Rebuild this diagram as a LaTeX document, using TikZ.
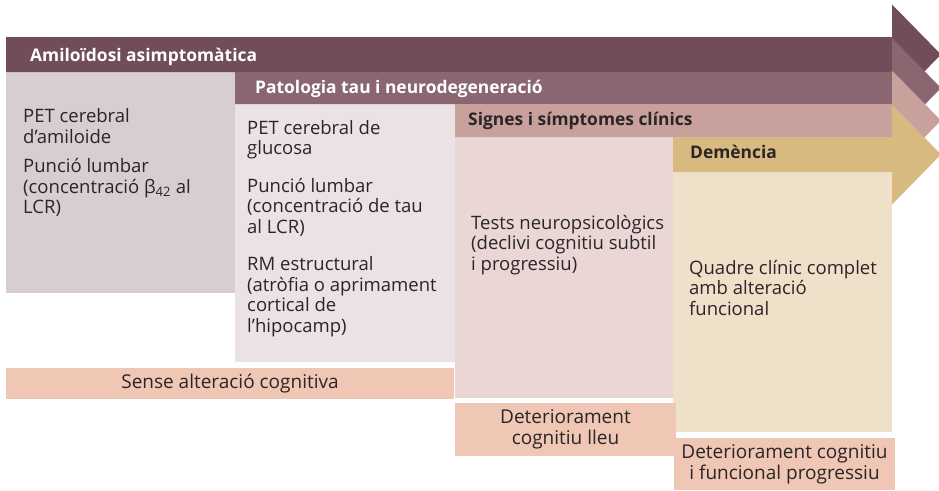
\documentclass[tikz,border=0pt]{standalone}
\usepackage{fontspec}
\setmainfont{Open Sans}
\usetikzlibrary{positioning}
\definecolor{amyBar}{HTML}{714D59}
\definecolor{tauBar}{HTML}{8A6670}
\definecolor{sigBar}{HTML}{C9A19C}
\definecolor{demBar}{HTML}{D8B97F}
\definecolor{amyBox}{HTML}{D8CDCF}
\definecolor{tauBox}{HTML}{EBE3E3}
\definecolor{sigBox}{HTML}{E9D6D5}
\definecolor{demBox}{HTML}{EFE0CA}
\definecolor{stageBox}{HTML}{EFC7B4}
\definecolor{ink}{HTML}{2A2627}
\begin{document}
\begin{tikzpicture}[x=1pt,y=-1pt,
  bartitle/.style={anchor=base west,inner sep=0pt,font=\fontsize{17.4}{20}\selectfont\bfseries},
  body/.style={anchor=base west,inner sep=0pt,align=left,text=ink,font=\fontsize{18.5}{20.5}\selectfont},
  stage/.style={fill=stageBox,inner sep=0pt,align=center,text=ink,font=\fontsize{19}{21}\selectfont}]
  \useasboundingbox (0,0) rectangle (939,490);
  % columns
  \fill[amyBox] (6,72) rectangle (235,293);
  \fill[tauBox] (235,104) rectangle (455,362);
  \fill[sigBox] (455,137) rectangle (673,398);
  \fill[demBox] (673,172) rectangle (892,432);
  % phase arrows
  \foreach \l/\t/\b/\c in {6/37/72/amyBar,235/72/104/tauBar,455/104/137/sigBar,673/137/172/demBar}{
    \pgfmathsetmacro\m{(\t+\b)/2}
    \fill[\c] (\l,\t) -- (892,\t) -- (892,\m-50) -- (941,\m) -- (892,\m+50) -- (892,\b) -- (\l,\b) -- cycle;
  }
  \node[bartitle,text=white] (amy) at (30,61) {Amiloïdosi asimptomàtica};
  \node[bartitle,text=white] (tau) at (255,93.5) {Patologia tau i neurodegeneració};
  \node[bartitle,text=ink] (sig) at (468,125) {Signes i símptomes clínics};
  \node[bartitle,text=ink] (dem) at (690,158.5) {Demència};
  % column texts (base = last line)
  \node[body] (amytxt) at (23,213.5) {PET cerebral\\d’amiloide\\[9pt]Punció lumbar\\(concentració β\textsubscript{42} al\\LCR)};
  \node[body] (tautxt) at (247,332) {PET cerebral de\\glucosa\\[17pt]Punció lumbar\\(concentració de tau\\al LCR)\\[17pt]RM estructural\\(atròfia o aprimament\\cortical de\\l’hipocamp)};
  \node[body] (sigtxt) at (471,270) {Tests neuropsicològics\\(declivi cognitiu subtil\\i progressiu)};
  \node[body] (demtxt) at (689,315) {Quadre clínic complet\\amb alteració\\funcional};
  % cognitive stages
  \node[stage,minimum width=448pt,minimum height=31pt] (none) at (230,383.5) {Sense alteració cognitiva};
  \node[stage,minimum width=221pt,minimum height=53pt] (mild) at (565.5,429.5) {Deteriorament\\cognitiu lleu};
  \node[stage,minimum width=221pt,minimum height=52pt] (prog) at (784.5,464) {Deteriorament cognitiu\\i funcional progressiu};
\end{tikzpicture}
\end{document}
